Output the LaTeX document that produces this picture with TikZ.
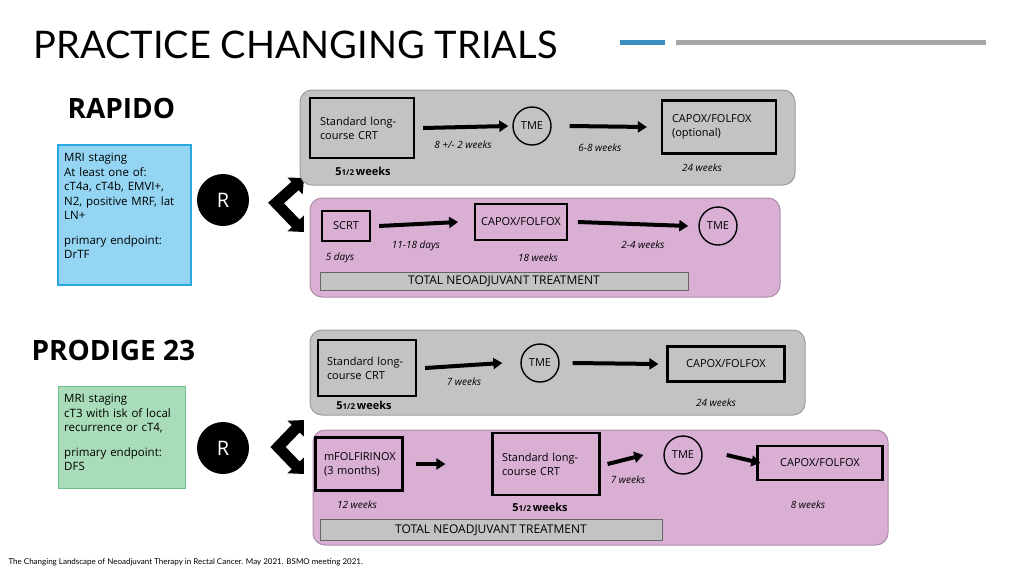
\documentclass[tikz,border=0pt]{standalone}
\usepackage{fontspec}
\setmainfont{Open Sans}
\newfontfamily\titlefont{Lato}
\usetikzlibrary{arrows.meta}
\definecolor{panelgrey}{HTML}{C3C3C3}
\definecolor{panelpink}{HTML}{D9AFD4}
\definecolor{bluefill}{HTML}{93D5F2}
\definecolor{blueline}{HTML}{2AA8E0}
\definecolor{greenfill}{HTML}{A9DCB9}
\definecolor{greenline}{HTML}{72C08E}
\definecolor{accentblue}{HTML}{3A8EC0}
\tikzset{
  panel/.style={rounded corners=12pt,draw=#1!80!black,line width=1pt,fill=#1},
  box/.style={draw=black,line width=2.2pt,align=left,font=\fontsize{11}{14}\selectfont,inner sep=6pt},
  tme/.style={circle,draw=black,line width=1.4pt,minimum size=38pt,inner sep=0pt,font=\fontsize{11}{13}\selectfont},
  arr/.style={line width=4pt,-{Triangle[length=9pt,width=11pt]}},
  dur/.style={font=\fontsize{10}{12}\selectfont\itshape},
  half/.style={font=\fontsize{11}{12}\selectfont\bfseries},
  rnode/.style={circle,fill=black,minimum size=52pt,text=white,font=\fontsize{20}{22}\selectfont},
  chev/.style={line width=11pt,{Triangle[length=12pt,width=22pt]}-{Triangle[length=12pt,width=22pt]}},
  total/.style={draw=black!60,fill=panelgrey,minimum height=18pt,inner sep=0pt,font=\fontsize{12}{14}\selectfont},
  info/.style={align=left,anchor=north west,text width=118pt,font=\fontsize{11.5}{14.5}\selectfont,inner sep=6pt},
  heading/.style={anchor=west,font=\fontsize{28}{30}\selectfont\bfseries},
}
\newcommand{\halfwk}{5{\fontsize{8}{9}\selectfont 1/2}\,weeks}
\begin{document}
\begin{tikzpicture}[x=1pt,y=-1pt]
\useasboundingbox (0,0) rectangle (1024,576);
\fill[white] (0,0) rectangle (1024,576);

% title
\node[anchor=west,font=\titlefont\fontsize{38}{40}\selectfont] (title) at (30,45) {PRACTICE CHANGING TRIALS};
\fill[accentblue] (620,40) rectangle (665,45);
\fill[gray!70] (676,40) rectangle (986,45);

% RAPIDO
\node[heading] (rapido) at (64,108) {RAPIDO};
\draw[blueline,fill=bluefill,line width=2pt] (58,145) rectangle (191,285);
\node[info] (rapidoinfo) at (58,147) {MRI staging\\At least one of:\\cT4a, cT4b, EMVI+,\\N2, positive MRF, lat\\LN+\\[10pt]primary endpoint:\\DrTF};
\node[rnode] (rA) at (223,200) {R};
\coordinate (vA) at (276,203);
\coordinate (upA) at (304,178);
\coordinate (dnA) at (304,232);
\draw[chev] (upA) -- (vA) -- (dnA);

\draw[panel=panelgrey] (300,90) rectangle (795,185);
\node[box,minimum width=104pt,minimum height=60pt,text width=84pt] (crtA) at (362,128) {Standard long-\\course CRT};
\node[tme] (tmeA) at (532,126) {TME};
\node[box,minimum width=114pt,minimum height=53pt,text width=94pt] (capA) at (719,127) {CAPOX/FOLFOX\\(optional)};
\draw[arr] ([xshift=8pt]crtA.east) -- ([xshift=-4pt]tmeA.west);
\draw[arr] ([xshift=18pt]tmeA.east) -- ([xshift=-14pt]capA.west);
\node[dur] (wA1) at (463,145) {8 +/- 2 weeks};
\node[dur] (wA2) at (600,148) {6-8 weeks};
\node[half] (wA3) at (363,171) {\halfwk};
\node[dur] (wA4) at (702,168) {24 weeks};

\draw[panel=panelpink] (310,198) rectangle (780,297);
\node[box,minimum width=48pt,minimum height=30pt] (scrt) at (346,226) {SCRT};
\node[box,minimum width=86pt,minimum height=36pt] (capB) at (521,222) {CAPOX/FOLFOX};
\node[tme] (tmeB) at (718,226) {TME};
\draw[arr] ([xshift=8pt]scrt.east) -- ([xshift=-16pt]capB.west);
\draw[arr] ([xshift=10pt]capB.east) -- ([xshift=-10pt]tmeB.west);
\node[dur] (wB1) at (416,246) {11-18 days};
\node[dur] (wB2) at (340,258) {5 days};
\node[dur] (wB3) at (538,258) {18 weeks};
\node[dur] (wB4) at (643,245) {2-4 weeks};
\node[total,minimum width=368pt] (totA) at (504,281) {TOTAL NEOADJUVANT TREATMENT};

% PRODIGE 23
\node[heading] (prodige) at (28,350) {PRODIGE 23};
\draw[greenline,fill=greenfill,line width=1pt] (58,386) rectangle (185,488);
\node[info] (prodigeinfo) at (58,388) {MRI staging\\cT3 with isk of local\\recurrence or cT4,\\[10pt]primary endpoint:\\DFS};
\node[rnode] (rB) at (223,448) {R};
\coordinate (vB) at (278,447);
\coordinate (upB) at (304,420);
\coordinate (dnB) at (304,474);
\draw[chev] (upB) -- (vB) -- (dnB);

\draw[panel=panelgrey] (310,330) rectangle (805,415);
\node[box,minimum width=98pt,minimum height=56pt,text width=80pt] (crtC) at (367,368) {Standard long-\\course CRT};
\node[tme] (tmeC) at (540,363) {TME};
\node[box,minimum width=117pt,minimum height=35pt] (capC) at (726,364) {CAPOX/FOLFOX};
\draw[arr] ([xshift=8pt]crtC.east) -- ([xshift=-18pt]tmeC.west);
\draw[arr] ([xshift=13pt]tmeC.east) -- ([xshift=-8pt]capC.west);
\node[dur] (wC1) at (464,382) {7 weeks};
\node[half] (wC2) at (364,405) {\halfwk};
\node[dur] (wC3) at (716,403) {24 weeks};

\draw[panel=panelpink] (313,430) rectangle (888,545);
\node[box,minimum width=87pt,minimum height=53pt,text width=70pt] (mfol) at (359,464) {mFOLFIRINOX\\(3 months)};
\node[box,minimum width=107pt,minimum height=62pt,text width=88pt] (crtD) at (546,464) {Standard long-\\course CRT};
\node[tme] (tmeD) at (683,455) {TME};
\node[box,minimum width=125pt,minimum height=34pt] (capD) at (820,463) {CAPOX/FOLFOX};
\draw[arr] ([xshift=12pt]mfol.east) -- ([xshift=-46pt]crtD.west);
\draw[arr] ([xshift=7pt]crtD.east) -- ([xshift=-20pt]tmeD.west);
\draw[arr] ([xshift=24pt]tmeD.east) -- ([xshift=4pt]capD.west);
\node[dur] (wD1) at (357,505) {12 weeks};
\node[half] (wD2) at (540,507) {\halfwk};
\node[dur] (wD3) at (628,480) {7 weeks};
\node[dur] (wD4) at (808,505) {8 weeks};
\node[total,minimum width=342pt,minimum height=21pt] (totB) at (491,530) {TOTAL NEOADJUVANT TREATMENT};

% source
\node[anchor=west,font=\titlefont\fontsize{8}{9}\selectfont] (source) at (5,562) {The Changing Landscape of Neoadjuvant Therapy in Rectal Cancer. May 2021. BSMO meeting 2021.};
\end{tikzpicture}
\end{document}
